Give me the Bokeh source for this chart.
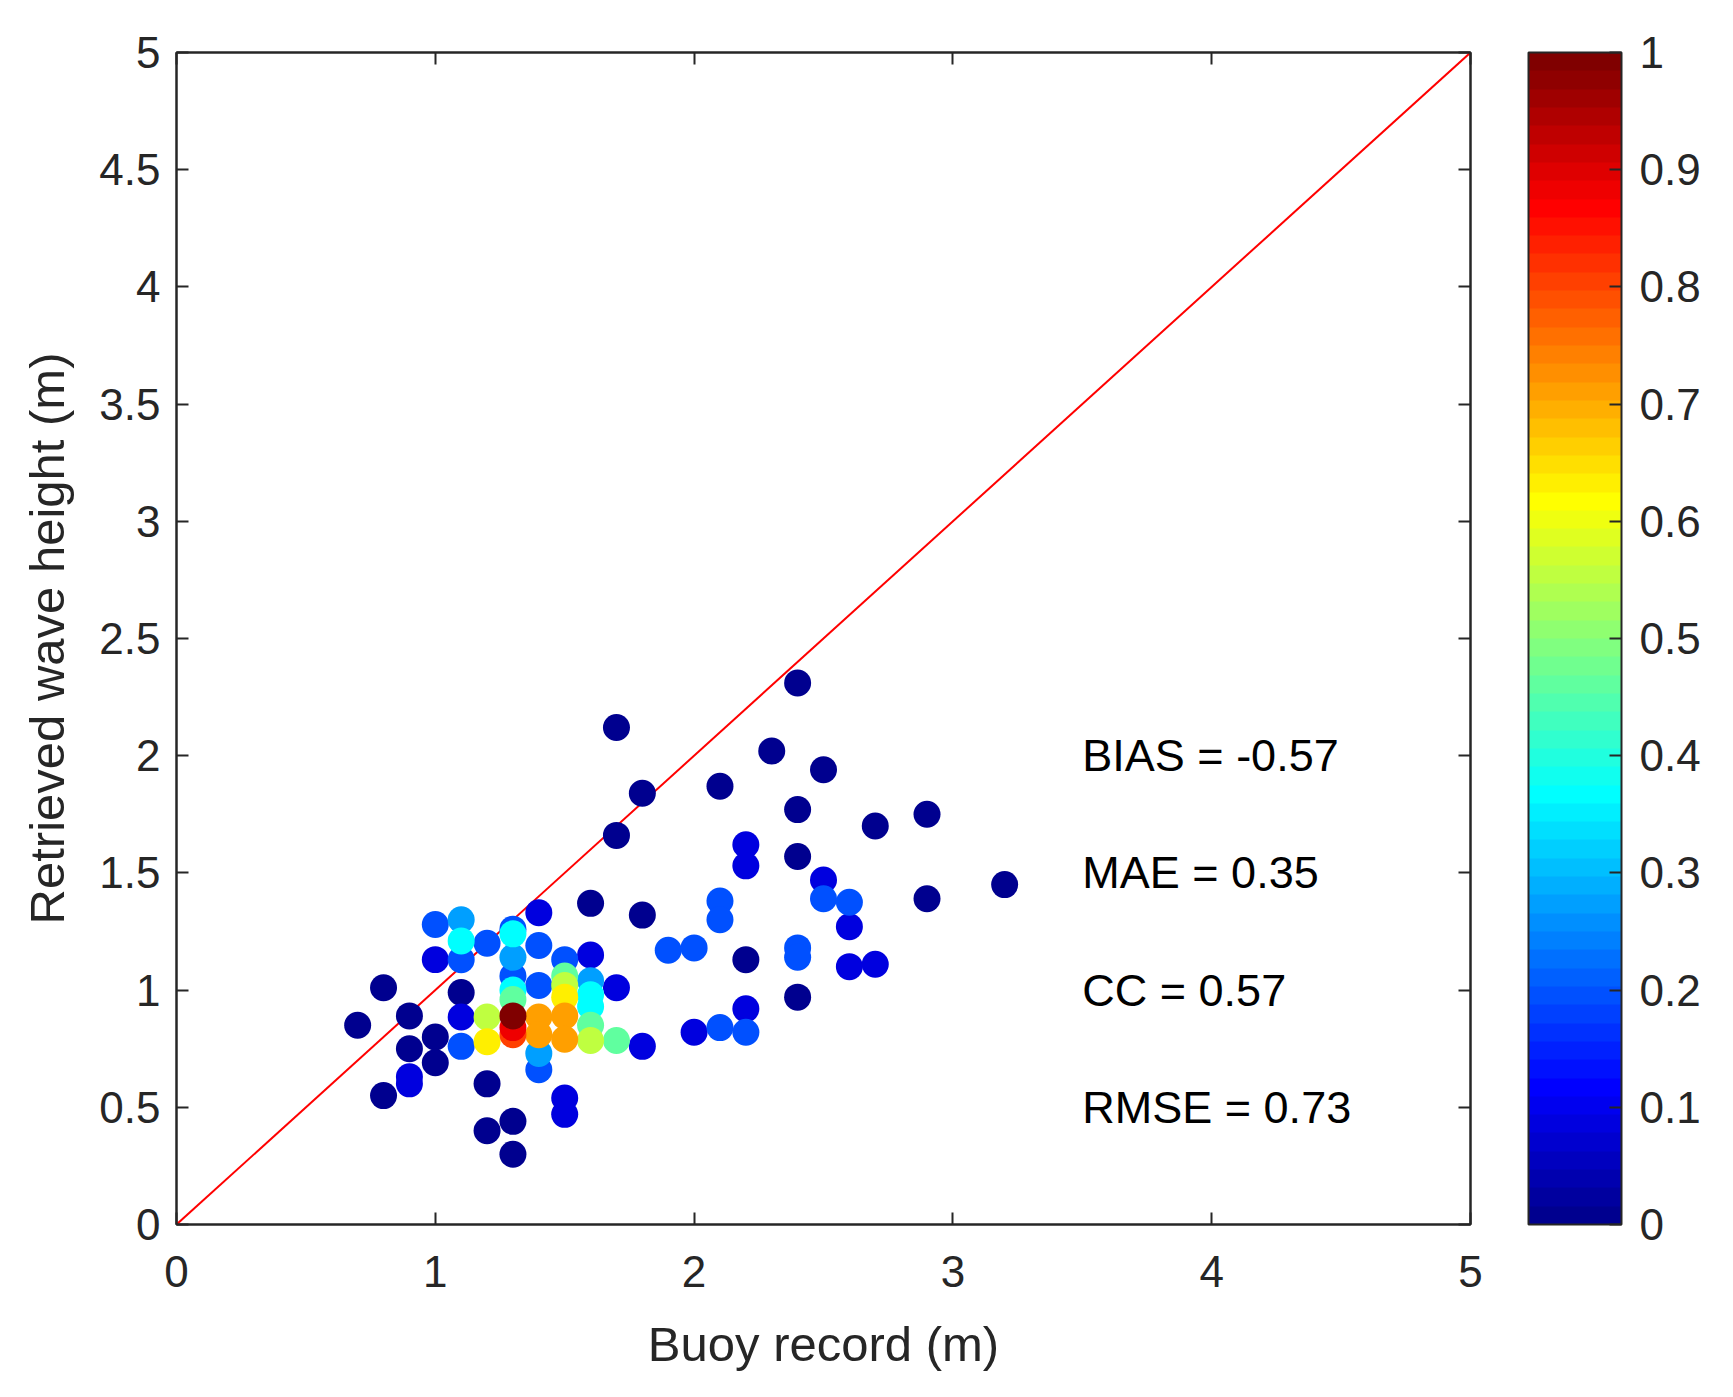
import numpy as np
from bokeh.plotting import figure
from bokeh.models import (ColumnDataSource, LinearColorMapper, ColorBar, FixedTicker,
                          LinearAxis, CustomJSTickFormatter, Range1d)
from bokeh.core.properties import value
from bokeh.embed import file_html
from bokeh.resources import INLINE

# ---------------- data ----------------
buoy = [0.7, 0.8, 0.8, 0.9, 0.9, 1.0, 1.0, 1.1, 1.2, 1.2, 1.3, 1.3, 1.6, 1.8, 1.7, 2.3, 2.5,
        2.1, 1.8, 2.4, 2.4, 2.7, 2.9, 1.7, 2.4, 2.9, 3.2, 2.2, 2.4,
        0.9, 0.9, 1.0, 1.1, 1.4, 1.6, 1.7, 1.8, 1.5, 1.5, 2.2, 2.2, 2.5, 2.6, 2.6, 2.7, 2.2, 2.0,
        1.0, 1.1, 1.2, 1.3, 1.4, 1.5, 1.3, 1.4, 1.1, 1.4, 2.5, 2.6, 2.1, 2.1, 1.9, 2.0, 2.4, 2.4, 2.1, 2.2,
        1.1, 1.3, 1.6, 1.4,
        1.1, 1.3, 1.3, 1.6, 1.6,
        1.5, 1.3, 1.6, 1.7,
        1.2, 1.6, 1.5,
        1.2, 1.5,
        1.4, 1.4, 1.5, 1.5,
        1.3, 1.3, 1.3]
retrieved = [0.85, 1.01, 0.55, 0.89, 0.75, 0.80, 0.69, 0.99, 0.60, 0.40, 0.44, 0.30, 1.37, 1.32, 2.12, 2.02, 1.94,
             1.87, 1.84, 2.31, 1.77, 1.70, 1.75, 1.66, 1.57, 1.39, 1.45, 1.13, 0.97,
             0.60, 0.63, 1.13, 0.885, 1.33, 1.15, 1.01, 0.76, 0.54, 0.47, 1.62, 1.53, 1.47, 1.27, 1.10, 1.11, 0.92, 0.82,
             1.28, 1.13, 1.20, 1.26, 1.19, 1.13, 1.06, 1.02, 0.76, 0.66, 1.39, 1.375, 1.38, 1.30, 1.17, 1.18, 1.18, 1.14, 0.84, 0.82,
             1.30, 1.14, 1.04, 0.73,
             1.21, 1.24, 1.00, 0.98, 0.93,
             1.06, 0.96, 0.85, 0.785,
             0.885, 0.785, 1.02,
             0.78, 0.97,
             0.885, 0.81, 0.89, 0.79,
             0.81, 0.84, 0.89]
density = [0.0] * 29 + \
          [0.08] * 18 + \
          [0.19] * 20 + \
          [0.28] * 4 + \
          [0.37] * 5 + \
          [0.46] * 4 + \
          [0.55] * 3 + \
          [0.64] * 2 + \
          [0.71] * 4 + \
          [0.80, 0.88, 1.0]

x_ticks = [0, 1, 2, 3, 4, 5]
y_ticks = [0, 0.5, 1, 1.5, 2, 2.5, 3, 3.5, 4, 4.5, 5]
cb_ticks = [0, 0.1, 0.2, 0.3, 0.4, 0.5, 0.6, 0.7, 0.8, 0.9, 1.0]

stat_labels = ["BIAS = -0.57", "MAE = 0.35", "CC = 0.57", "RMSE = 0.73"]
stat_x = [3.5, 3.5, 3.5, 3.5]
stat_y = [2.0, 1.5, 1.0, 0.5]

# ---------------- jet(64) colormap ----------------
def jet(m=64):
    n = int(np.ceil(m / 4))
    u = np.concatenate([np.arange(1, n + 1) / n, np.ones(n - 1), np.arange(n, 0, -1) / n])
    g = int(np.ceil(n / 2)) - (1 if m % 4 == 1 else 0) + np.arange(1, len(u) + 1)
    r = g + n
    b = g - n
    J = np.zeros((m, 3))
    for idx, ch in ((r, 0), (g, 1), (b, 2)):
        ok = (idx >= 1) & (idx <= m)
        J[idx[ok] - 1, ch] = u[ok]
    return ["#%02x%02x%02x" % tuple(int(round(v * 255)) for v in row) for row in J]

palette = jet(64)

order = np.argsort(np.array(density), kind="stable")
src = ColumnDataSource(dict(
    x=[buoy[i] for i in order],
    y=[retrieved[i] for i in order],
    c=[density[i] for i in order],
))

mapper = LinearColorMapper(palette=palette, low=0, high=1)

FONT = "Liberation Sans"
DARK = "#262626"

p = figure(frame_width=1294, frame_height=1172,
           x_range=Range1d(0, 5), y_range=Range1d(0, 5),
           output_backend="svg", toolbar_location=None,
           min_border_left=176, min_border_top=52, min_border_bottom=160, min_border_right=40)
p.grid.visible = False
p.outline_line_color = DARK
p.outline_line_width = 2
p.background_fill_color = "white"
p.border_fill_color = "white"

fmt = CustomJSTickFormatter(code="return String(Math.round(tick*10)/10);")

for ax in (p.xaxis[0], p.yaxis[0]):
    ax.major_tick_in = 12
    ax.major_tick_out = 0
    ax.minor_tick_line_color = None
    ax.axis_line_color = DARK
    ax.axis_line_width = 2
    ax.major_tick_line_color = DARK
    ax.major_tick_line_width = 2
    ax.major_label_text_font = FONT
    ax.major_label_text_font_size = "44px"
    ax.major_label_text_color = DARK
    ax.axis_label_text_font = FONT
    ax.axis_label_text_font_size = "49px"
    ax.axis_label_text_font_style = "normal"
    ax.axis_label_text_color = DARK
    ax.formatter = fmt

p.xaxis[0].ticker = FixedTicker(ticks=x_ticks)
p.yaxis[0].ticker = FixedTicker(ticks=y_ticks)
p.xaxis[0].axis_label = "Buoy record (m)"
p.yaxis[0].axis_label = "Retrieved wave height (m)"
p.xaxis[0].major_label_standoff = 31
p.yaxis[0].major_label_standoff = 16
p.xaxis[0].axis_label_standoff = 27
p.yaxis[0].axis_label_standoff = 22

# top and right axes: ticks only
for loc, tk in (("above", x_ticks), ("right", y_ticks)):
    a = LinearAxis(ticker=FixedTicker(ticks=tk), major_tick_in=12, major_tick_out=0,
                   minor_tick_line_color=None, major_label_text_font_size="2px",
                   major_label_text_color=None,
                   major_label_standoff=0, axis_line_color=DARK, axis_line_width=2,
                   major_tick_line_color=DARK, major_tick_line_width=2)
    p.add_layout(a, loc)

# 1:1 line
p.line(x=[x_ticks[0], x_ticks[-1]], y=[y_ticks[0], y_ticks[-1]], line_color="red", line_width=2)

p.scatter(x="x", y="y", source=src, size=27, marker="circle",
          fill_color={"field": "c", "transform": mapper}, line_color=None)

p.text(x=stat_x, y=stat_y, text=stat_labels, text_font=value(FONT), text_font_size="45px",
       text_baseline="middle", text_align="left", text_color="black")

cb = ColorBar(color_mapper=mapper, ticker=FixedTicker(ticks=cb_ticks), formatter=fmt,
              width=93, height=1172, location=(58, 0), padding=0, margin=0,
              label_standoff=18, major_tick_in=12, major_tick_out=0,
              major_tick_line_color=DARK, major_tick_line_width=2,
              minor_tick_line_color=None,
              bar_line_color=DARK, bar_line_width=2,
              major_label_text_font=FONT, major_label_text_font_size="44px",
              major_label_text_color=DARK,
              background_fill_alpha=0, border_line_color=None)
p.add_layout(cb, "right")

open("out.html", "w").write(file_html(p, INLINE))
